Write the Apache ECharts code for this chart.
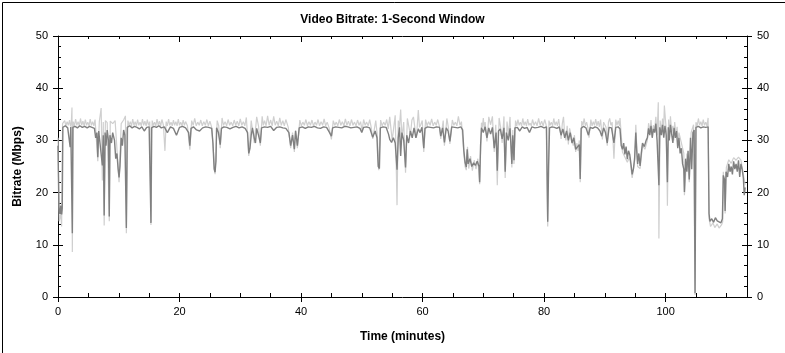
<!DOCTYPE html>
<html>
<head>
<meta charset="utf-8">
<script src="https://cdn.jsdelivr.net/npm/echarts@6/dist/echarts.min.js"></script>
<style>
html,body{margin:0;padding:0;background:#fff;}
#chart{width:785px;height:353px;}
</style>
</head>
<body>
<div id="chart"></div>
<script>
// Chart text
const chartTitle = 'Video Bitrate: 1-Second Window';
const xAxisName = 'Time (minutes)';
const yAxisName = 'Bitrate (Mbps)';

// Axis ranges
const xMin = 0, xMax = 113.4, xMajor = 20, xMinor = 5;
const yMin = 0, yMax = 50, yMajor = 10;

// Dark trace: [minutes, Mbps]
const bitrateDark = [
[0.0,29],[0.15,17],[0.3,16],[0.45,17.5],[0.6,15.8],[0.7,17],[0.8,32.5],[1.2,32.8],[1.6,32.4],[1.9,32.6],[2.0,28.7],[2.1,32.6],[2.3,32.8],[2.36,12.2],[2.45,32.5],[2.8,32.7],[3.2,32.4],[3.6,32.8],[4.0,32.5],[4.4,32.7],[4.8,32.4],[5.2,32.7],[5.6,32.5],[6.0,32.3],[6.2,30.5],[6.4,31.5],[6.55,26.8],[6.7,31.8],[7.0,32.0],[7.3,25.2],[7.45,31.0],[7.6,15.6],[7.75,31.5],[7.9,29],[8.1,32],[8.3,30],[8.44,15.4],[8.55,31],[8.8,29.5],[9.0,31.5],[9.3,30],[9.5,26.5],[9.7,27.5],[9.9,24.5],[10.05,22.9],[10.2,25],[10.4,30.5],[10.6,29],[10.8,32],[11.0,31],[11.25,13.2],[11.4,32.5],[11.8,32.8],[12.2,32.4],[12.6,32.7],[13.0,32.5],[13.4,32.2],[13.8,32.6],[14.2,31.8],[14.6,32.5],[15.0,32.6],[15.3,14.2],[15.4,32.4],[15.8,32.7],[16.2,32.5],[16.6,32.8],[17.0,32.4],[17.5,32.6],[18.0,31.5],[18.5,32.6],[19.0,32.3],[19.5,31.0],[20.0,32.5],[20.5,32.7],[21.0,32.4],[21.5,31.5],[21.7,29],[21.9,32.3],[22.3,32.6],[22.8,32.0],[23.3,31.8],[23.8,32.4],[24.3,32.6],[24.8,32.5],[25.3,32.3],[25.5,29.5],[25.7,24.5],[25.85,23.9],[26.0,26],[26.1,32.4],[26.4,31.5],[26.7,29.2],[26.9,32.3],[27.3,32.6],[27.8,32.5],[28.3,32.2],[28.8,32.5],[29.3,32.7],[29.8,32.4],[30.3,32.6],[30.8,32.3],[31.2,31.5],[31.4,27.5],[31.6,28.5],[31.8,31],[32.0,32.4],[32.3,30.5],[32.5,29.5],[32.7,32.3],[33.0,31],[33.3,29.5],[33.5,32.4],[34.0,32.6],[34.5,32.5],[35.0,32.7],[35.5,31.9],[36.0,32.5],[36.5,32.6],[37.0,32.4],[37.5,32.3],[38.0,31.5],[38.3,29],[38.6,31],[38.9,28.3],[39.1,31.8],[39.4,29],[39.7,32.4],[40.2,32.6],[40.7,32.3],[41.2,32.6],[41.7,32.5],[42.2,32.7],[42.7,32.4],[43.2,32.3],[43.7,32.6],[44.2,32.5],[44.7,31.5],[45.0,30.8],[45.2,32.4],[45.7,32.6],[46.2,32.5],[46.7,32.4],[47.2,32.7],[47.7,32.6],[48.2,32.4],[48.7,32.5],[49.2,32.6],[49.7,32.3],[50.0,31.5],[50.3,32.5],[50.8,32.6],[51.3,32.4],[51.8,30.6],[52.2,31.8],[52.5,30.5],[52.7,25],[52.9,24.6],[53.05,32.4],[53.5,32.6],[54.0,32.5],[54.4,31.2],[54.6,30.2],[54.9,29.6],[55.2,30.5],[55.5,29.5],[55.8,24.4],[56.0,30.5],[56.2,32.5],[56.4,27],[56.6,31.5],[56.9,30],[57.2,24.8],[57.4,31],[57.7,29.5],[58.0,31.8],[58.3,30.5],[58.6,32.4],[58.9,30.5],[59.3,32.2],[59.6,31.5],[59.9,32.5],[60.2,28.5],[60.4,32.3],[60.8,32.6],[61.3,32.5],[61.8,32.4],[62.3,32.6],[62.8,32.5],[63.0,30.8],[63.3,32.4],[63.6,29.6],[63.9,32.4],[64.2,31.8],[64.5,29.8],[64.8,32.6],[65.3,32.5],[65.8,32.4],[66.3,32.6],[66.6,32.0],[66.8,28],[67.0,25.8],[67.2,24.9],[67.35,28.3],[67.5,25.5],[67.8,26.5],[68.1,25.0],[68.4,25.7],[68.7,25.2],[69.0,26.0],[69.3,25.0],[69.4,22.0],[69.55,29],[69.7,32.4],[70.0,31.5],[70.3,32.6],[70.6,30.5],[70.9,32.4],[71.2,31.2],[71.5,32.5],[71.8,28.5],[72.1,31.5],[72.3,24.2],[72.5,31.8],[72.8,32.2],[73.1,30.3],[73.4,32.4],[73.6,24.0],[73.8,31.5],[74.1,30],[74.4,32.3],[74.7,25.5],[74.85,31],[75.05,26.2],[75.2,32.4],[75.6,32.5],[76.0,31.8],[76.4,32.6],[76.8,32.3],[77.2,32.5],[77.6,31.5],[78.0,32.6],[78.5,32.4],[79.0,32.5],[79.5,32.7],[80.0,32.4],[80.4,32.6],[80.6,14.4],[80.75,25],[80.9,32.4],[81.3,32.6],[81.7,32.5],[82.1,32.3],[82.5,32.6],[82.8,31],[83.1,32.2],[83.4,30.5],[83.7,31.8],[84.0,30],[84.3,31.5],[84.6,29.5],[84.9,30.5],[85.2,28.3],[85.5,28.5],[85.8,29.2],[85.95,22.6],[86.1,32.3],[86.5,32.7],[86.9,32.4],[87.3,31],[87.6,32.5],[88.0,32.3],[88.4,32.6],[88.8,32.4],[89.2,31.8],[89.5,30.8],[89.8,32.4],[90.1,31.5],[90.4,29.5],[90.7,32.5],[91.1,32.4],[91.5,29.5],[91.8,32.5],[92.2,32.6],[92.5,32.2],[92.7,29],[92.9,28.3],[93.1,29.5],[93.3,27.3],[93.5,28.8],[93.7,26.4],[93.9,28],[94.1,27.3],[94.3,25.5],[94.5,23.5],[94.7,24.5],[94.9,26.5],[95.1,31.5],[95.25,28],[95.4,25.5],[95.6,27.5],[95.8,25.1],[96.0,27.5],[96.2,29.5],[96.5,28.8],[96.8,30.0],[97.0,30.5],[97.2,32.3],[97.4,31.0],[97.6,32.8],[97.8,30.5],[98.0,32.2],[98.2,31.5],[98.4,33.2],[98.6,30],[98.9,21.4],[99.05,32.5],[99.3,31.0],[99.5,33.0],[99.7,30.5],[99.9,32.8],[100.1,31],[100.3,22],[100.45,32.5],[100.6,30],[100.8,33],[101.0,31.2],[101.2,29.5],[101.4,32.4],[101.6,30.5],[101.8,31.8],[102.0,28.5],[102.2,30.5],[102.4,27.5],[102.6,28.5],[102.8,25.5],[103.0,24.5],[103.1,20.1],[103.3,26.5],[103.5,24],[103.7,28],[103.9,22.5],[104.1,30.5],[104.3,24.5],[104.5,31.5],[104.7,32],[104.85,0.7],[105.0,32.5],[105.4,32.7],[105.8,32.4],[106.2,32.6],[106.6,32.5],[107.0,32.6],[107.15,16],[107.3,14.5],[107.6,15],[107.9,14.3],[108.2,15.2],[108.5,14.6],[108.8,14.9],[109.1,14.2],[109.35,15],[109.5,23.3],[109.7,22.5],[109.8,16.5],[109.95,24],[110.2,23],[110.4,25.5],[110.6,24],[110.8,25],[111.0,23.5],[111.2,26],[111.4,24.5],[111.6,25.5],[111.8,24],[112.0,26.2],[112.2,23],[112.4,25.5],[112.6,24.5],[112.8,22.8],[112.95,19.5],[113.1,21]
];

// Light trace (peak envelope): [minutes, Mbps]
const bitrateLight = [
[0.0,30.5],[0.2,14.5],[0.45,16],[0.6,13.5],[0.75,33.2],[1.1,33.8],[1.3,32.8],[1.5,33.6],[1.7,32.9],[1.9,33.9],[2.05,32.8],[2.2,33.5],[2.3,36.3],[2.36,8.6],[2.5,33.6],[2.7,32.8],[2.9,34.1],[3.1,32.9],[3.3,33.6],[3.5,32.8],[3.7,34.2],[3.9,32.9],[4.1,33.7],[4.3,32.8],[4.5,34.0],[4.7,32.9],[4.9,33.5],[5.1,32.8],[5.3,34.1],[5.5,32.9],[5.7,33.6],[5.9,32.8],[6.1,34.0],[6.55,26.0],[6.8,33.6],[7.1,36.2],[7.3,22.3],[7.45,33.5],[7.6,13.7],[7.8,33.8],[8.1,33.4],[8.44,14.5],[8.6,33.7],[9.0,33.2],[9.4,33.8],[10.05,22.0],[10.4,33.2],[10.8,33.9],[11.1,34.7],[11.25,12.2],
[11.5,33.8],[11.7,32.9],[11.9,33.6],[12.1,32.8],[12.3,34.1],[12.5,32.9],[12.7,33.6],[12.9,32.8],[13.1,34.0],[13.3,32.9],[13.5,33.5],[13.7,32.8],[13.9,34.1],[14.1,32.9],[14.3,33.7],[14.5,32.8],[14.7,34.0],[14.9,32.9],[15.1,33.6],[15.3,13.8],[15.5,33.8],[15.7,32.9],[15.9,33.5],[16.1,32.8],[16.3,34.1],[16.5,32.9],[16.7,33.7],[16.9,32.8],[17.1,34.0],[17.35,32.9],[17.6,28.0],[17.8,33.6],[18.0,32.8],[18.2,34.1],[18.4,32.9],[18.6,33.5],[18.8,32.8],[19.0,33.9],[19.2,32.9],[19.4,33.6],[19.6,32.8],[19.8,34.1],[20.0,32.9],[20.2,33.5],[20.4,32.8],[20.6,33.9],[20.8,32.9],[21.0,33.6],[21.3,32.8],[21.7,28.2],[22.0,33.8],[22.25,32.9],[22.5,34.2],[22.75,32.8],[23.0,33.5],[23.25,32.9],[23.5,33.9],[23.75,32.8],[24.0,33.6],[24.25,32.9],[24.5,34.0],[24.75,32.8],[25.0,33.7],[25.3,32.5],[25.85,23.5],[26.2,33.8],[26.45,32.8],[26.7,28.5],[27.0,34.3],[27.25,32.9],[27.5,33.6],[27.75,32.8],[28.0,34.0],[28.25,32.9],[28.5,33.5],[28.75,32.8],[29.0,33.9],[29.25,32.9],[29.5,33.7],[29.75,32.8],[30.0,34.1],[30.25,32.9],[30.5,33.6],[30.75,32.8],[31.0,34.4],[31.4,27.0],[31.8,33.8],[32.3,29.5],[32.7,34.5],[33.0,32.8],[33.3,29.0],[33.6,34.6],[33.8,32.9],[34.0,33.8],[34.25,32.8],[34.5,34.7],[34.75,32.9],[35.0,33.9],[35.25,32.8],[35.5,34.6],[35.75,32.9],[36.0,33.7],[36.25,32.8],[36.5,34.3],[36.75,32.9],[37.0,33.8],[37.25,32.8],[37.5,34.0],[37.9,32.5],[38.3,28.5],[38.6,31.5],[38.9,27.8],[39.1,32],[39.4,28.5],[39.8,33.9],
[40.05,32.8],[40.3,33.5],[40.55,32.9],[40.8,34.0],[41.05,32.8],[41.3,33.6],[41.55,32.9],[41.8,33.9],[42.05,32.8],[42.3,33.5],[42.55,32.9],[42.8,34.0],[43.05,32.8],[43.3,33.6],[43.55,32.9],[43.8,34.1],[44.05,32.8],[44.3,33.5],[44.6,32.5],[45.0,30.2],[45.3,33.8],[45.55,32.9],[45.8,33.5],[46.05,32.8],[46.3,34.0],[46.55,32.9],[46.8,33.6],[47.05,32.8],[47.3,34.1],[47.55,32.9],[47.8,33.7],[48.05,32.8],[48.3,34.0],[48.55,32.9],[48.8,33.5],[49.05,32.8],[49.3,33.9],[49.55,32.9],[49.8,33.6],[50.05,31.8],[50.3,34.0],[50.55,32.9],[50.8,33.5],[51.05,32.8],[51.3,34.0],[51.55,32.5],[51.8,30.3],[52.3,33.8],[52.55,31],[52.8,24.3],[53.1,33.9],[53.35,32.8],[53.6,33.5],[53.85,32.9],[54.1,34.0],[54.35,32.2],[54.6,34.5],[55.0,30.0],[55.5,34.8],[55.8,17.6],[56.0,33.8],[56.2,32.5],[56.4,35.9],[56.6,30.5],[56.9,33.5],[57.2,23.8],[57.5,34.2],[58.0,31.0],[58.25,33.9],[58.5,34.5],[58.75,32.3],[59.0,30.5],[59.3,35.8],[59.5,32.5],[59.7,33.0],[59.95,33.8],[60.2,27.8],[60.5,34.0],[60.75,32.8],[61.0,33.6],[61.25,32.9],[61.5,34.1],[61.75,32.8],[62.0,33.5],[62.25,32.9],[62.5,34.0],[62.75,32.8],[63.0,30.3],[63.4,33.8],[63.6,29.0],[64.0,34.2],[64.25,32.5],[64.5,29.3],[64.9,33.9],[65.15,32.9],[65.4,33.5],[65.65,32.8],[65.9,34.6],[66.15,32.9],[66.4,33.6],
[66.8,27.5],[67.0,25.0],[67.2,24.3],[67.4,28.8],[67.6,24.6],[67.9,27.0],[68.2,24.2],[68.5,26.2],[68.8,24.5],[69.1,26.5],[69.4,21.6],[69.7,33.4],[69.85,32.5],[70.0,34.3],[70.15,32.3],[70.3,33.5],[70.6,29.8],[70.9,34.5],[71.2,33.0],[71.5,34.6],[71.8,27.8],[72.05,33],[72.3,21.4],[72.6,34.3],[72.85,32.5],[73.1,29.5],[73.4,34.6],[73.6,22.8],[73.9,33.6],[74.15,31],[74.4,34.5],[74.7,24.8],[74.85,32],[75.05,25.5],[75.3,33.8],[75.5,32.8],[75.7,34.0],[75.9,32.9],[76.1,33.5],[76.3,32.8],[76.5,34.2],[76.7,32.9],[76.9,33.6],[77.1,32.8],[77.3,34.1],[77.5,32.9],[77.7,33.3],[77.9,32.8],[78.1,34.0],[78.35,32.9],[78.6,33.6],[78.85,32.8],[79.1,34.2],[79.35,32.9],[79.6,33.7],[79.85,32.8],[80.1,34.0],[80.35,32.9],[80.6,13.5],[80.8,33.8],[81.0,32.9],[81.2,33.5],[81.4,32.8],[81.6,34.2],[81.8,32.9],[82.0,33.6],[82.2,32.8],[82.4,34.1],[82.6,32.5],[82.8,30.3],[83.0,33.2],[83.2,34.5],[83.4,31],[83.6,30.0],[83.8,32.8],[84.0,29.2],[84.2,32.3],[84.4,32.5],[84.6,30.3],[84.8,29.0],[85.0,31],[85.2,27.8],[85.4,29.5],[85.6,28.0],[85.8,30],[85.95,22.0],[86.2,33.7],[86.4,32.9],[86.6,34.2],[86.8,32.8],[87.0,33.5],[87.2,32.5],[87.4,30.5],[87.7,34.0],[87.9,32.8],[88.1,33.6],[88.3,32.9],[88.5,34.1],[88.7,32.8],[88.9,33.7],[89.1,32.6],[89.3,34.0],[89.6,30.2],[89.8,33.5],[90.0,33.6],[90.2,32.5],[90.4,29.0],[90.6,33.5],[90.8,34.2],[91.0,32.9],[91.2,33.5],[91.5,26.5],[91.8,34.0],[92.0,32.9],[92.2,33.8],[92.4,32.8],[92.5,34.3],
[92.9,27.8],[93.3,26.8],[93.7,25.8],[94.1,26.8],[94.5,22.8],[94.9,26.0],[95.1,33.0],[95.4,25.0],[95.8,24.6],[96.2,29.0],[96.6,28.3],[97.0,30.0],[97.2,33.3],[97.4,31.5],[97.6,33.9],[97.8,31],[98.0,32.9],[98.2,32],[98.4,34.5],[98.6,31],[98.8,37.3],[98.9,11.2],[99.1,33.8],[99.3,31.5],[99.5,34.2],[99.65,31],[99.8,36.7],[100.0,33.6],[100.15,31.5],[100.3,17.5],[100.5,34.0],[100.65,30.5],[100.8,34.6],[101.0,31.5],[101.2,32.8],[101.35,30],[101.5,33.5],[101.7,31],[101.9,32.6],[102.05,29],[102.2,31.5],[102.6,29.5],[103.0,27.5],[103.1,19.5],[103.5,27.5],[103.9,22],[104.2,31.5],[104.6,33],[104.85,0.4],[105.0,33.5],[105.2,32.8],[105.4,34.2],[105.6,32.9],[105.8,33.6],[106.0,32.8],[106.2,34.0],[106.4,32.9],[106.6,33.5],[106.8,32.8],[107.0,34.3],[107.15,15],[107.4,13.5],[107.8,14.2],[108.1,13.3],[108.5,14],[108.8,13.2],[109.2,13.8],[109.4,14.4],[109.5,24],[109.8,16],[110.0,24.8],[110.4,26.3],[110.8,25.6],[111.2,26.7],[111.6,26.2],[112.0,26.8],[112.4,26.2],[112.8,23.5],[113.1,21.5]
];

const chart = echarts.init(document.getElementById('chart'), null, {renderer: 'canvas'});
const FONT = 'Liberation Sans, Arial, sans-serif';
const lineCol = '#000';

function xAx(opts) {
  return Object.assign({
    type: 'value', min: xMin, max: xMax, interval: xMajor, position: 'bottom',
    axisLine: {show: true, onZero: false, lineStyle: {color: lineCol, width: 1}},
    axisTick: {show: true, inside: false, length: 5, lineStyle: {color: lineCol}},
    axisLabel: {show: false},
    splitLine: {show: false}
  }, opts);
}
function yAx(opts) {
  return Object.assign({
    type: 'value', min: yMin, max: yMax, interval: yMajor, position: 'left',
    axisLine: {show: true, onZero: false, lineStyle: {color: lineCol, width: 1}},
    axisTick: {show: true, inside: false, length: 5, lineStyle: {color: lineCol}},
    axisLabel: {show: false},
    splitLine: {show: false}
  }, opts);
}

const option = {
  animation: false,
  backgroundColor: '#fff',
  title: {
    text: chartTitle, left: 'center', top: 9,
    textStyle: {fontFamily: FONT, fontSize: 12, fontWeight: 'bold', color: '#000'}
  },
  grid: {left: 58, right: 38, top: 36, bottom: 56},
  xAxis: [
    xAx({
      axisLabel: {show: true, fontFamily: FONT, fontSize: 11, color: '#000', margin: 9, showMaxLabel: false},
      name: xAxisName, nameLocation: 'middle', nameGap: 34,
      nameTextStyle: {fontFamily: FONT, fontSize: 12, fontWeight: 'bold', color: '#000'}
    }),
    xAx({interval: xMinor, axisLine: {show: false, onZero: false}, axisTick: {show: true, inside: true, length: 4, lineStyle: {color: lineCol}}}),
    xAx({position: 'top', interval: xMinor, axisTick: {show: true, inside: true, length: 3, lineStyle: {color: lineCol}}}),
    xAx({position: 'top', axisLine: {show: false, onZero: false}, axisTick: {show: true, inside: true, length: 6, lineStyle: {color: lineCol}}})
  ],
  yAxis: [
    yAx({
      axisLabel: {show: true, fontFamily: FONT, fontSize: 11, color: '#000', margin: 10},
      name: yAxisName, nameLocation: 'middle', nameGap: 34, nameRotate: 90,
      nameTextStyle: {fontFamily: FONT, fontSize: 12, fontWeight: 'bold', color: '#000'}
    }),
    yAx({axisLine: {show: false, onZero: false}, axisTick: {show: true, inside: true, length: 5, lineStyle: {color: lineCol}},
         minorTick: {show: true, splitNumber: 5, length: 3, lineStyle: {color: lineCol}}}),
    yAx({position: 'right', axisLabel: {show: true, fontFamily: FONT, fontSize: 11, color: '#000', margin: 10}}),
    yAx({position: 'right', axisLine: {show: false, onZero: false}, axisTick: {show: true, inside: true, length: 5, lineStyle: {color: lineCol}},
         minorTick: {show: true, splitNumber: 5, length: 3, lineStyle: {color: lineCol}}})
  ],
  series: [
    {
      name: 'peak', type: 'line', xAxisIndex: 0, yAxisIndex: 0,
      data: bitrateLight, showSymbol: false, symbol: 'none', sampling: null,
      lineStyle: {color: '#cfcfcf', width: 1.2}, z: 2, silent: true
    },
    {
      name: 'bitrate', type: 'line', xAxisIndex: 0, yAxisIndex: 0,
      data: bitrateDark, showSymbol: false, symbol: 'none', sampling: null,
      lineStyle: {color: '#808080', width: 1.4}, z: 3, silent: true
    }
  ],
  graphic: [{
    type: 'rect', left: 0, top: 0, silent: true,
    shape: {x: 0.5, y: 0.5, width: 784, height: 352},
    style: {fill: 'none', stroke: '#000', lineWidth: 1}
  }]
};
chart.setOption(option);
</script>
</body>
</html>
